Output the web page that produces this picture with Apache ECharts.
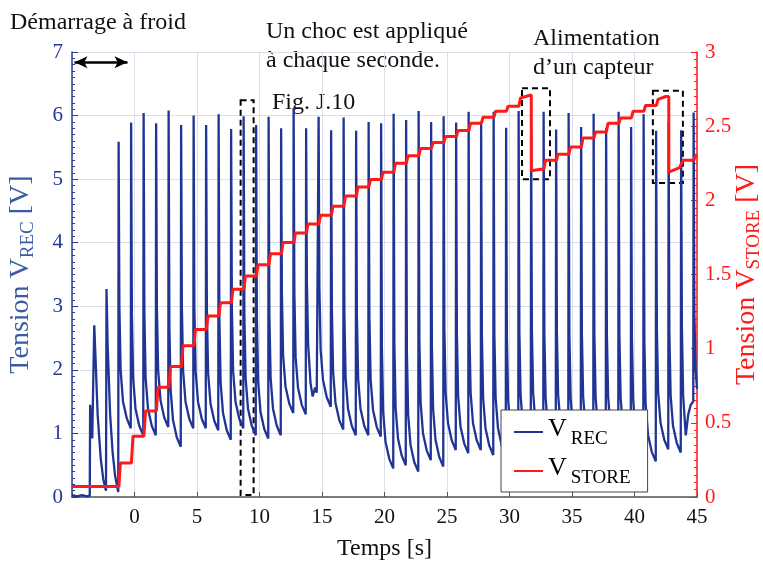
<!DOCTYPE html>
<html>
<head>
<meta charset="utf-8">
<script src="https://cdn.jsdelivr.net/npm/echarts@6/dist/echarts.min.js"></script>
<style>html,body{margin:0;padding:0;background:#fff}#c{width:763px;height:565px}</style>
</head>
<body>
<div id="c"></div>
<script>
// ---- data (time [s], value [V]) ----
const timeRange = [-5, 45];
const recRange = [0, 7];
const storeRange = [0, 3];

// V_REC : cold start then one shock per second
const vrecStart = [[-5.0,0.03],[-4.6,0.01],[-4.2,0.03],[-3.8,0.01],[-3.58,0.02],[-3.55,1.45],[-3.45,1.1],[-3.38,0.92],[-3.22,2.70],[-3.12,2.2],[-2.95,1.30],[-2.7,0.6],[-2.5,0.28],[-2.28,0.1],[-2.24,3.27],[-2.15,2.4],[-1.95,1.3],[-1.75,0.7],[-1.55,0.33],[-1.30,0.08]];
const vrecCycles = [
[-1.27,5.59],[-1.21,3.00],[-1.11,2.00],[-0.92,1.50],[-0.62,1.24],[-0.30,1.08],
[-0.27,5.89],[-0.21,2.87],[-0.11,1.87],[0.08,1.39],[0.38,1.12],[0.70,0.97],
[0.73,6.04],[0.79,2.87],[0.89,1.87],[1.08,1.39],[1.38,1.12],[1.70,0.97],
[1.73,5.88],[1.79,3.00],[1.89,2.00],[2.08,1.52],[2.38,1.25],[2.70,1.10],
[2.73,6.08],[2.79,2.69],[2.89,1.69],[3.08,1.21],[3.38,0.94],[3.70,0.79],
[3.73,5.85],[3.79,2.98],[3.89,1.98],[4.08,1.50],[4.38,1.23],[4.70,1.08],
[4.73,6.00],[4.79,2.98],[4.89,1.98],[5.08,1.50],[5.38,1.23],[5.70,1.08],
[5.73,5.85],[5.79,2.95],[5.89,1.95],[6.08,1.47],[6.38,1.20],[6.70,1.05],
[6.73,6.02],[6.79,2.80],[6.89,1.80],[7.08,1.32],[7.38,1.05],[7.70,0.90],
[7.73,5.79],[7.79,2.98],[7.89,1.98],[8.08,1.50],[8.38,1.23],[8.70,1.08],
[8.73,5.99],[8.79,2.87],[8.89,1.87],[9.08,1.39],[9.38,1.12],[9.70,0.97],
[9.73,5.85],[9.79,2.82],[9.89,1.82],[10.08,1.34],[10.38,1.07],[10.70,0.92],
[10.73,5.98],[10.79,2.87],[10.89,1.87],[11.08,1.39],[11.38,1.12],[11.70,0.97],
[11.73,5.80],[11.79,3.22],[11.89,2.22],[12.08,1.74],[12.38,1.47],[12.70,1.32],
[12.73,6.12],[12.79,3.20],[12.89,2.20],[13.08,1.72],[13.38,1.45],[13.70,1.30],
[13.73,5.80],[13.79,3.40],[13.89,2.40],[14.08,1.80],[14.25,1.58],[14.45,1.72],[14.58,1.64],[14.70,1.62],
[14.73,5.98],[14.79,3.32],[14.89,2.32],[15.08,1.84],[15.38,1.57],[15.70,1.42],
[15.73,5.77],[15.79,2.96],[15.89,1.96],[16.08,1.48],[16.38,1.21],[16.70,1.06],
[16.73,5.97],[16.79,2.87],[16.89,1.87],[17.08,1.39],[17.38,1.12],[17.70,0.97],
[17.73,5.76],[17.79,2.87],[17.89,1.87],[18.08,1.39],[18.38,1.12],[18.70,0.97],
[18.73,5.90],[18.79,2.85],[18.89,1.85],[19.08,1.37],[19.38,1.10],[19.70,0.95],
[19.73,5.88],[19.79,2.35],[19.89,1.35],[20.08,0.87],[20.38,0.60],[20.70,0.45],
[20.73,6.03],[20.79,2.40],[20.89,1.40],[21.08,0.92],[21.38,0.65],[21.70,0.50],
[21.73,5.93],[21.79,2.30],[21.89,1.30],[22.08,0.82],[22.38,0.55],[22.70,0.40],
[22.73,6.07],[22.79,2.48],[22.89,1.48],[23.08,1.00],[23.38,0.73],[23.70,0.58],
[23.73,5.90],[23.79,2.38],[23.89,1.38],[24.08,0.90],[24.38,0.63],[24.70,0.48],
[24.73,5.99],[24.79,2.64],[24.89,1.64],[25.08,1.16],[25.38,0.89],[25.70,0.74],
[25.73,5.89],[25.79,2.59],[25.89,1.59],[26.08,1.11],[26.38,0.84],[26.70,0.69],
[26.73,6.06],[26.79,2.64],[26.89,1.64],[27.08,1.16],[27.38,0.89],[27.70,0.74],
[27.73,5.88],[27.79,2.56],[27.89,1.56],[28.08,1.08],[28.38,0.81],[28.70,0.66],
[28.73,6.06],[28.79,2.56],[28.89,1.56],[29.08,1.08],[29.38,0.81],[29.70,0.66],
[29.73,5.81],[29.79,2.53],[29.89,1.53],[30.08,1.05],[30.38,0.78],[30.70,0.63],
[30.73,6.07],[30.79,2.59],[30.89,1.59],[31.08,1.11],[31.38,0.84],[31.70,0.69],
[31.73,5.80],[31.79,2.64],[31.89,1.64],[32.08,1.16],[32.38,0.89],[32.70,0.74],
[32.73,6.06],[32.79,2.56],[32.89,1.56],[33.08,1.08],[33.38,0.81],[33.70,0.66],
[33.73,5.78],[33.79,2.61],[33.89,1.61],[34.08,1.13],[34.38,0.86],[34.70,0.71],
[34.73,6.04],[34.79,2.56],[34.89,1.56],[35.08,1.08],[35.38,0.81],[35.70,0.66],
[35.73,5.82],[35.79,2.58],[35.89,1.58],[36.08,1.10],[36.38,0.83],[36.70,0.68],
[36.73,6.03],[36.79,2.56],[36.89,1.56],[37.08,1.08],[37.38,0.81],[37.70,0.66],
[37.73,5.81],[37.79,2.58],[37.89,1.58],[38.08,1.10],[38.38,0.83],[38.70,0.68],
[38.73,6.06],[38.79,2.56],[38.89,1.56],[39.08,1.08],[39.38,0.81],[39.70,0.66],
[39.73,5.82],[39.79,2.53],[39.89,1.53],[40.08,1.05],[40.38,0.78],[40.70,0.63],
[40.73,6.02],[40.79,2.46],[40.89,1.46],[41.08,0.98],[41.38,0.71],[41.70,0.56],
[41.73,5.76],[41.79,2.65],[41.89,1.65],[42.08,1.17],[42.38,0.90],[42.70,0.75],
[42.73,5.90],[42.79,2.60],[42.89,1.60],[43.08,1.12],[43.38,0.85],[43.70,0.70],
[43.73,5.77],[43.79,2.70],[43.89,1.60],[44.10,0.97],[44.30,1.30],[44.50,1.45],[44.70,1.50],
[44.73,6.05],[44.79,2.90],[44.89,2.00],[45.00,1.70]
];

// V_STORE : staircase, two discharges when the sensor is powered
const vstoreData = [
[-5,0.07],[-1.25,0.07],[-1.13,0.23],[-0.25,0.23],[-0.12,0.41],[0.75,0.41],[0.88,0.58],
[1.75,0.58],[1.88,0.74],[2.75,0.74],[2.88,0.88],[3.75,0.88],[3.88,1.02],[4.75,1.02],[4.88,1.13],
[5.75,1.13],[5.88,1.22],[6.75,1.22],[6.88,1.31],[7.75,1.31],[7.88,1.40],[8.75,1.40],[8.88,1.49],
[9.75,1.49],[9.88,1.565],[10.75,1.565],[10.88,1.64],[11.75,1.64],[11.88,1.715],[12.75,1.715],[12.88,1.78],
[13.75,1.78],[13.88,1.84],[14.75,1.84],[14.88,1.90],[15.75,1.90],[15.88,1.96],[16.75,1.96],[16.88,2.03],
[17.75,2.03],[17.88,2.09],[18.75,2.09],[18.88,2.14],[19.75,2.14],[19.88,2.19],[20.75,2.19],[20.88,2.25],
[21.75,2.25],[21.88,2.30],[22.75,2.30],[22.88,2.35],[23.75,2.35],[23.88,2.39],[24.75,2.39],[24.88,2.43],
[25.75,2.43],[25.88,2.47],[26.75,2.47],[26.88,2.52],[27.75,2.52],[27.88,2.56],[28.75,2.56],[28.88,2.60],
[29.75,2.60],[29.88,2.635],[30.75,2.635],[30.88,2.69],[31.5,2.705],[31.74,2.71],
[31.75,2.20],[32.5,2.21],[32.75,2.21],[32.88,2.27],[33.75,2.27],[33.88,2.31],[34.75,2.31],[34.88,2.36],
[35.75,2.36],[35.88,2.42],[36.75,2.42],[36.88,2.46],[37.75,2.46],[37.88,2.52],[38.75,2.52],[38.88,2.555],
[39.75,2.555],[39.88,2.60],[40.75,2.60],[40.88,2.64],[41.75,2.64],[41.88,2.68],[42.5,2.70],[42.74,2.70],
[42.75,2.19],[43.6,2.22],[43.75,2.22],[43.88,2.27],[44.75,2.27],[44.88,2.30],[45,2.31]
];

// annotation boxes (time, V_REC) and the cold-start arrow
const boxes = [[[8.49,6.24],[9.53,0.03]],[[31.0,6.43],[33.24,5.0]],[[41.47,6.39],[43.87,4.94]]];
const coldStartArrow = [[-4.8,6.84],[-0.56,6.84]];

const vrecData = vrecStart.concat(vrecCycles);

const SERIF = '"Liberation Serif","Times New Roman",serif';
const BLUE = '#1f3494';
const RED = '#ff1a1a';
const NAMEBLUE = '#3b5ca4';
const chart = echarts.init(document.getElementById('c'), null, {renderer:'canvas'});
chart.setOption({
  animation:false,
  backgroundColor:'#fff',
  grid:{left:72,right:66,top:52,bottom:68,containLabel:false,outerBoundsMode:'none'},
  xAxis:{
    type:'value',min:timeRange[0],max:timeRange[1],interval:5,
    name:'Temps [s]',nameLocation:'middle',nameGap:40,
    nameTextStyle:{fontFamily:SERIF,fontSize:24,color:'#111'},
    axisLine:{onZero:false,lineStyle:{color:'#555',width:1.5}},
    axisTick:{inside:true,length:5,lineStyle:{color:'#555'}},
    axisLabel:{fontFamily:SERIF,fontSize:21,color:'#111',margin:10,formatter:v=>v<0?'':String(v)},
    splitLine:{show:true,lineStyle:{color:'#dcdfea',width:1}}
  },
  yAxis:[{
    type:'value',min:recRange[0],max:recRange[1],interval:1,position:'left',
    name:'{a|Tension V}{b|REC}{a| [V]}',nameLocation:'middle',nameGap:33,nameRotate:90,nameMoveOverlap:false,
    nameTextStyle:{color:NAMEBLUE,fontFamily:SERIF,fontSize:28,
      rich:{a:{fontFamily:SERIF,fontSize:28,color:NAMEBLUE,verticalAlign:'top',lineHeight:32},
            b:{fontFamily:SERIF,fontSize:19,color:NAMEBLUE,verticalAlign:'top',lineHeight:32,padding:[12,0,0,0]}}},
    axisLine:{show:true,onZero:false,lineStyle:{color:'#2b3f99',width:1.5}},
    axisTick:{inside:true,length:6,lineStyle:{color:'#2b3f99'}},
    minorTick:{show:true,splitNumber:10,length:3,lineStyle:{color:'#2b3f99'}},
    axisLabel:{fontFamily:SERIF,fontSize:21,color:'#21379a',margin:9},
    splitLine:{show:true,lineStyle:{color:'#dcdfea',width:1}}
  },{
    type:'value',min:storeRange[0],max:storeRange[1],interval:0.5,position:'right',
    name:'{a|Tension V}{b|STORE}{a| [V]}',nameLocation:'middle',nameGap:36,nameRotate:90,nameMoveOverlap:false,
    nameTextStyle:{color:RED,fontFamily:SERIF,fontSize:28,
      rich:{a:{fontFamily:SERIF,fontSize:28,color:RED,verticalAlign:'top',lineHeight:32},
            b:{fontFamily:SERIF,fontSize:19,color:RED,verticalAlign:'top',lineHeight:32,padding:[12,0,0,0]}}},
    axisLine:{show:true,onZero:false,lineStyle:{color:RED,width:1.5}},
    axisTick:{inside:true,length:6,lineStyle:{color:RED}},
    minorTick:{show:true,splitNumber:10,length:3,lineStyle:{color:RED}},
    axisLabel:{fontFamily:SERIF,fontSize:21,color:RED,margin:8},
    splitLine:{show:false}
  }],
  legend:{
    orient:'vertical',left:501,top:410,
    backgroundColor:'#fff',borderColor:'#444',borderWidth:1,borderRadius:0,
    padding:[6,17,4,13],itemGap:6,itemWidth:29,itemHeight:2,icon:'rect',
    data:['V_REC','V_STORE'],
    formatter:n=>n==='V_REC'?'{v|V}{s|REC}':'{v|V}{s|STORE}',
    textStyle:{rich:{
      v:{fontFamily:SERIF,fontSize:26,color:'#000',verticalAlign:'top',lineHeight:32},
      s:{fontFamily:SERIF,fontSize:19,color:'#000',verticalAlign:'top',lineHeight:32,padding:[14,0,0,4]}
    }}
  },
  series:[{
    name:'V_REC',type:'line',yAxisIndex:0,data:vrecData,showSymbol:false,symbol:'none',
    lineStyle:{color:BLUE,width:2.3},itemStyle:{color:BLUE},z:2,
    markArea:{silent:true,itemStyle:{color:'rgba(0,0,0,0)',borderColor:'#000',borderWidth:2,borderType:[6,4]},
      data:boxes.map(b=>[{coord:b[0]},{coord:b[1]}])},
    markLine:{silent:true,symbol:['arrow','arrow'],symbolSize:[9,13],label:{show:false},
      lineStyle:{color:'#000',width:2.5,type:'solid'},
      data:[[{coord:coldStartArrow[0]},{coord:coldStartArrow[1]}]]}
  },{
    name:'V_STORE',type:'line',yAxisIndex:1,data:vstoreData,showSymbol:false,symbol:'none',
    lineStyle:{color:RED,width:3},itemStyle:{color:RED},z:3
  }],
  graphic:[
    {type:'text',left:10,top:11,style:{text:'Démarrage à froid',font:'24px '+SERIF,fill:'#111'}},
    {type:'text',left:266,top:17,style:{text:'Un choc est appliqué\nà chaque seconde.',font:'24px '+SERIF,fill:'#111',lineHeight:29}},
    {type:'text',left:272,top:91,style:{text:'Fig. J.10',font:'24px '+SERIF,fill:'#111'}},
    {type:'text',left:533,top:24,style:{text:'Alimentation\nd’un capteur',font:'24px '+SERIF,fill:'#111',lineHeight:29,align:'center',x:67}}
  ]
});
</script>
</body>
</html>
